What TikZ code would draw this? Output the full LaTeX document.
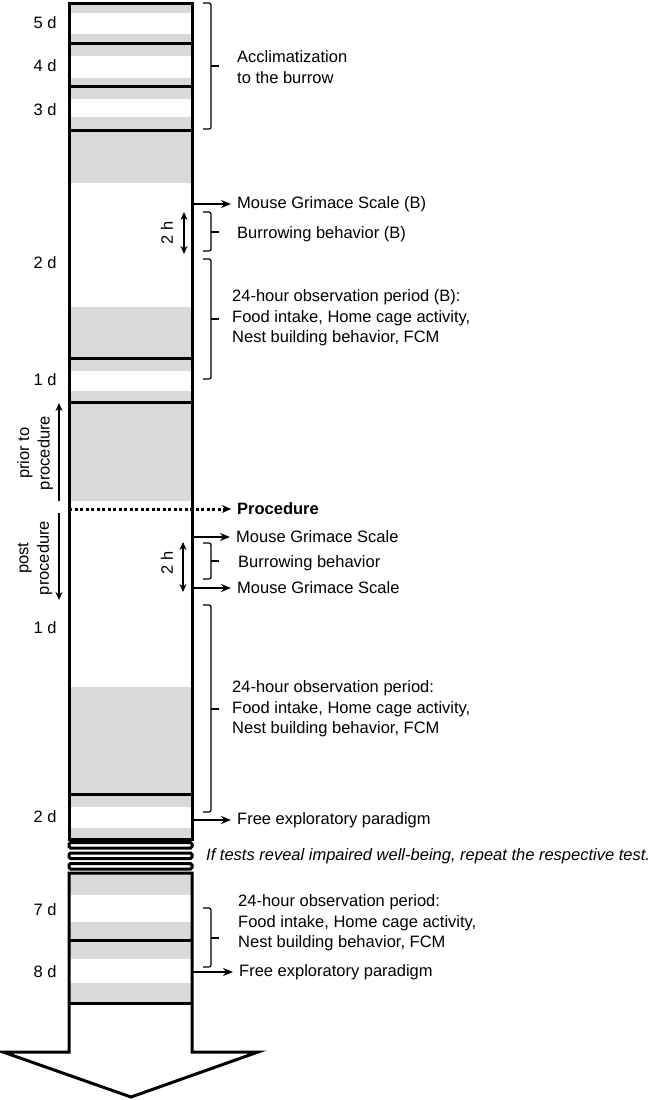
\documentclass[tikz,border=0pt]{standalone}
\usepackage{fontspec}
\setmainfont{Liberation Sans}
\usepackage{tikz}
\usetikzlibrary{arrows.meta,positioning,calc}

\definecolor{bandgray}{RGB}{217,217,217}
\tikzset{
  wall/.style={line width=3pt},
  lbl/.style={anchor=west, inner xsep=6pt, inner ysep=0pt, align=left},
  testarrow/.style={line width=2.4pt, -{Stealth[length=10pt,width=8pt]}},
  procline/.style={line width=3pt, dash pattern=on 3pt off 2.5pt, -{Stealth[length=9pt,width=8pt]}},
  span/.style={line width=1.5pt, -{Stealth[length=8pt,width=7pt]}},
  twoway/.style={line width=1.5pt, {Stealth[length=8pt,width=7pt]}-{Stealth[length=8pt,width=7pt]}},
  brc/.style={line width=1.2pt, rounded corners=2pt}
}
% right brace: top, bottom, middle
\newcommand{\rbrc}[3]{\draw[brc] (203,#1) -- (211,#1) -- (211,#2) -- (203,#2); \draw[brc] (211,#3) -- (219,#3);}

\begin{document}
\begin{tikzpicture}[x=1pt, y=-1pt, every node/.style={font=\fontsize{16.5}{20.5}\selectfont}]
\useasboundingbox (0,0) rectangle (656,1100);
\coordinate (colL) at (69,0);
\coordinate (colR) at (192,0);
% dark phases
\foreach \a/\b in {3/13,34/56,78/99,117/183,307/371,391/501,687/807,828/839,873/895,922/959,983/1002}
  \fill[bandgray] (69,\a) rectangle (192,\b);
% day borders
\foreach \y in {43.5,86,130,358,402,794,940,1003} \draw[wall] (69,\y) -- (192,\y);
\draw[wall] (69,3) rectangle (192,839);
% time break
\foreach \y in {842.5,853,863.5} \draw[wall, rounded corners=1.5pt] (69,\y) rectangle (192,\y+5.5);
\draw[wall, line join=miter] (69,873) -- (69,1052) -- (3,1052) -- (131,1097) -- (258,1052) -- (192,1052) -- (192,873) -- cycle;

% days
\foreach \n/\y/\t in {d5/23/5 d, d4/66/4 d, d3/110/3 d, d2a/263/2 d, d1a/380/1 d, d1b/628/1 d, d2b/817/2 d, d7/910/7 d, d8/972/8 d}
  \node (\n) at (45,\y) {\t};

\node[rotate=90, align=center] (prior) at (35,453) {prior to\\procedure};
\node[rotate=90, align=center] (post) at (35,558) {post\\procedure};
\draw[span] (59,501) -- (59,403);
\draw[span] (59,513) -- (59,600);

\node[rotate=90] (twohA) at (167,233) {2 h};
\draw[twoway] (184,212) -- (184,254);
\node[rotate=90] (twohB) at (167,563) {2 h};
\draw[twoway] (183,542) -- (183,592);

% tests
\node[lbl] (accl) at (231,67) {Acclimatization\\to the burrow};
\node[lbl] (mgsB) at (231,204) {Mouse Grimace Scale (B)};
\node[lbl] (burB) at (231,234) {Burrowing behavior (B)};
\node[lbl] (obsB) at (226,318) {24-hour observation period (B):\\Food intake, Home cage activity,\\Nest building behavior, FCM};
\node[lbl] (proc) at (231,509) {\bfseries Procedure};
\node[lbl] (mgsA) at (230,537) {Mouse Grimace Scale};
\node[lbl] (bur) at (232,563) {Burrowing behavior};
\node[lbl] (mgsC) at (231,588) {Mouse Grimace Scale};
\node[lbl] (obs) at (226,709) {24-hour observation period:\\Food intake, Home cage activity,\\Nest building behavior, FCM};
\node[lbl] (freeA) at (231,820) {Free exploratory paradigm};
\node[lbl, inner xsep=0pt] (note) at (206,856) {\itshape If tests reveal impaired well-being, repeat the respective test.};
\node[lbl] (obsC) at (232,923) {24-hour observation period:\\Food intake, Home cage activity,\\Nest building behavior, FCM};
\node[lbl] (freeB) at (233,972) {Free exploratory paradigm};

\foreach \n in {mgsB,mgsA,mgsC,freeA,freeB} \draw[testarrow] (colR |- \n.west) -- (\n.west);
\draw[procline] (colL |- proc.west) -- (proc.west);

\rbrc{3}{129}{66}
\rbrc{212}{251}{232}
\rbrc{259}{379}{319}
\rbrc{543}{579}{561}
\rbrc{605}{812}{709}
\rbrc{908}{967}{938}
\end{tikzpicture}
\end{document}
